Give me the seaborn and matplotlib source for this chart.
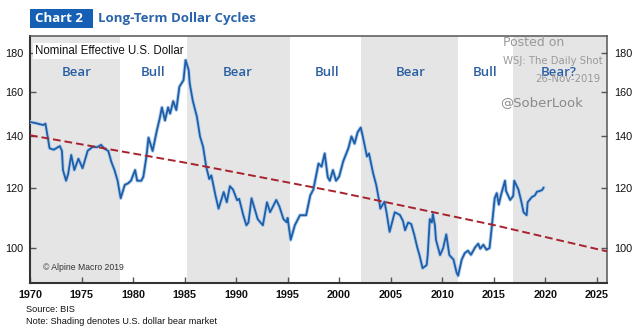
import numpy as np
import pandas as pd
import matplotlib
matplotlib.use("Agg")
import matplotlib.pyplot as plt
import seaborn as sns
from matplotlib.ticker import FixedLocator, NullLocator, FixedFormatter
from matplotlib.patches import Rectangle

# ---------------- data ----------------
years = [1970.0, 1970.5, 1971.0, 1971.3, 1971.5, 1971.9, 1972.3, 1972.9, 1973.1, 1973.2,
         1973.5, 1973.7, 1974.0, 1974.3, 1974.7, 1975.1, 1975.6, 1976.1, 1976.5, 1976.9,
         1977.2, 1977.6, 1977.9, 1978.2, 1978.5, 1978.8, 1979.2, 1979.5, 1979.8, 1980.2,
         1980.4, 1980.8, 1981.0, 1981.3, 1981.5, 1981.9, 1982.3, 1982.6, 1982.8, 1983.1,
         1983.4, 1983.6, 1983.9, 1984.2, 1984.5, 1984.9, 1985.1, 1985.4, 1985.5, 1985.8,
         1986.2, 1986.5, 1986.8, 1987.1, 1987.4, 1987.6, 1988.0, 1988.3, 1988.8, 1989.1,
         1989.4, 1989.7, 1990.1, 1990.3, 1990.7, 1991.0, 1991.2, 1991.5, 1991.8, 1992.1,
         1992.6, 1993.0, 1993.3, 1993.9, 1994.2, 1994.6, 1994.9, 1995.0, 1995.3, 1995.7,
         1996.2, 1996.8, 1997.2, 1997.5, 1998.0, 1998.3, 1998.6, 1998.9, 1999.1, 1999.4,
         1999.7, 2000.0, 2000.4, 2000.9, 2001.2, 2001.5, 2001.8, 2002.1, 2002.3, 2002.7,
         2002.9, 2003.3, 2003.6, 2003.9, 2004.0, 2004.4, 2004.6, 2004.9, 2005.4, 2005.9,
         2006.2, 2006.4, 2006.7, 2007.0, 2007.3, 2007.6, 2007.8, 2008.1, 2008.5, 2008.6,
         2008.8, 2009.0, 2009.1, 2009.3, 2009.4, 2009.8, 2010.1, 2010.4, 2010.7, 2011.1,
         2011.4, 2011.55, 2011.9, 2012.2, 2012.5, 2012.8, 2013.2, 2013.5, 2013.7, 2014.0,
         2014.3, 2014.6, 2014.8, 2015.1, 2015.3, 2015.5, 2015.7, 2016.1, 2016.2, 2016.6,
         2016.9, 2017.0, 2017.4, 2017.7, 2017.9, 2018.2, 2018.3, 2018.7, 2019.0, 2019.2,
         2019.5, 2019.7, 2019.85]
neer = [146.2, 145.8, 145.2, 144.9, 145.5, 135.1, 134.5, 136.0, 134.0, 126.5,
        122.5, 125.0, 132.4, 126.5, 130.9, 127.2, 134.1, 135.7, 135.5, 136.5,
        135.0, 134.0, 129.6, 126.5, 122.5, 116.2, 121.0, 121.5, 122.5, 126.5,
        122.5, 122.5, 124.0, 131.8, 139.5, 134.0, 142.3, 148.0, 152.8, 146.9,
        152.8, 150.0, 155.7, 151.6, 162.6, 165.9, 176.3, 171.0, 164.3, 155.9,
        148.5, 140.0, 135.7, 127.8, 123.1, 124.5, 117.2, 112.6, 118.4, 114.8,
        120.5, 119.3, 115.5, 116.0, 110.4, 107.1, 108.0, 116.2, 112.6, 109.1,
        107.1, 114.8, 111.4, 115.6, 113.4, 109.1, 108.1, 109.5, 102.5, 107.1,
        110.4, 110.4, 117.2, 119.3, 129.0, 127.8, 133.0, 123.8, 122.5, 126.5,
        122.5, 124.0, 129.9, 135.1, 140.0, 137.0, 141.8, 143.8, 140.0, 131.8,
        133.0, 125.3, 121.0, 115.0, 112.6, 115.0, 111.4, 105.0, 111.4, 110.5,
        108.5, 105.5, 108.0, 107.5, 104.0, 100.0, 97.9, 94.1, 95.0, 98.0,
        109.1, 108.0, 110.8, 107.0, 102.5, 97.9, 100.0, 104.2, 97.9, 96.6,
        92.9, 92.0, 96.6, 98.5, 99.2, 98.0, 100.2, 101.3, 99.8, 101.0,
        99.5, 100.0, 106.0, 116.2, 118.0, 114.0, 117.2, 122.5, 118.8, 115.6,
        117.0, 122.5, 119.3, 114.8, 111.4, 110.4, 114.8, 116.6, 117.2, 118.5,
        118.8, 119.1, 120.0]

trend_years = [1970, 1985, 2000, 2015, 2026]
trend_values = [140.5, 129.4, 118.3, 107.2, 99.0]

bear_starts = [1970.0, 1985.2, 2002.1, 2016.9]
bear_ends = [1978.7, 1995.2, 2011.5, 2026.0]

cycle_labels = ["Bear", "Bull", "Bear", "Bull", "Bear", "Bull", "Bear?"]
cycle_label_years = [1974.5, 1981.9, 1990.2, 1998.8, 2006.9, 2014.2, 2021.3]
cycle_label_level = 169.5

x_ticks = [1970, 1975, 1980, 1985, 1990, 1995, 2000, 2005, 2010, 2015, 2020, 2025]
y_ticks = [100, 120, 140, 160, 180]

# ---------------- plot ----------------
sns.set_style("ticks")
plt.rcParams["font.family"] = ["Liberation Sans", "DejaVu Sans"]

fig = plt.figure(figsize=(6.4, 3.35), dpi=100)
ax = fig.add_axes([30 / 640, 1 - 283 / 335, 577 / 640, (283 - 36) / 335])

for s, e in zip(bear_starts, bear_ends):
    ax.axvspan(s, e, color="#e5e5e5", lw=0, zorder=0)

df = pd.DataFrame({"year": years, "value": neer})
sns.lineplot(data=df, x="year", y="value", ax=ax, color="#b3cdea", lw=2.6, zorder=3)
sns.lineplot(data=df, x="year", y="value", ax=ax, color="#1d5ea8", lw=1.3, zorder=4)

tdf = pd.DataFrame({"year": trend_years, "value": trend_values})
sns.lineplot(data=tdf, x="year", y="value", ax=ax, color="#a8222e", lw=1.4,
             linestyle=(0, (4, 2)), zorder=5)

ax.set_yscale("log")
ax.set_xlim(1970, 2026)
ax.set_ylim(90, 189.5)
ax.set_xlabel("")
ax.set_ylabel("")

ax.xaxis.set_major_locator(FixedLocator(x_ticks))
ax.yaxis.set_major_locator(FixedLocator(y_ticks))
ax.yaxis.set_major_formatter(FixedFormatter([str(v) for v in y_ticks]))
ax.yaxis.set_minor_locator(NullLocator())
ax.tick_params(axis="both", which="major", direction="in", length=4, width=1,
               color="#555555", labelsize=7.8, labelcolor="#111111")
ax.tick_params(axis="y", right=True, labelright=True, pad=5)
ax.tick_params(axis="x", pad=5)
for lab in ax.get_xticklabels():
    lab.set_fontweight("bold")

for sp in ax.spines.values():
    sp.set_visible(True)
    sp.set_color("#555555")
    sp.set_linewidth(1.1)
ax.spines["left"].set_color("#333333")
ax.spines["bottom"].set_color("#333333")
ax.spines["left"].set_linewidth(1.5)
ax.spines["bottom"].set_linewidth(1.5)

for lab, yr in zip(cycle_labels, cycle_label_years):
    ax.text(yr, cycle_label_level, lab, ha="center", va="center", fontsize=9.5,
            color="#2a5fa3", family=["Open Sans", "DejaVu Sans"], fontweight="semibold",
            zorder=6)

ax.text(0.009, 0.965, "Nominal Effective U.S. Dollar", transform=ax.transAxes,
        ha="left", va="top", fontsize=8.3, color="#111111", zorder=7,
        bbox=dict(facecolor="white", edgecolor="none", pad=1.5))
ax.text(0.022, 0.045, "\u00a9 Alpine Macro 2019", transform=ax.transAxes,
        ha="left", va="bottom", fontsize=6.2, color="#333333", zorder=7)

# title
fig.patches.append(Rectangle((30 / 640, 1 - 28 / 335), 63 / 640, 19 / 335,
                             transform=fig.transFigure, facecolor="#1560b4",
                             edgecolor="none", zorder=1))
fig.text(35 / 640, 1 - 18.5 / 335, "Chart 2", ha="left", va="center", fontsize=9.5,
         color="white", fontweight="bold", family=["Open Sans", "DejaVu Sans"], zorder=2)
fig.text(98 / 640, 1 - 18.5 / 335, "Long-Term Dollar Cycles", ha="left", va="center",
         fontsize=9.5, color="#2a64ab", fontweight="bold",
         family=["Open Sans", "DejaVu Sans"])

# watermark
fig.text(503 / 640, 1 - 42 / 335, "Posted on", ha="left", va="center", fontsize=9,
         color="#9a9a9a", family=["DejaVu Sans"])
fig.text(503 / 640, 1 - 61 / 335, "WSJ: The Daily Shot", ha="left", va="center",
         fontsize=7.3, color="#9a9a9a", family=["DejaVu Sans"])
fig.text(600 / 640, 1 - 79 / 335, "26-Nov-2019", ha="right", va="center", fontsize=7.3,
         color="#9a9a9a", family=["DejaVu Sans"])
fig.text(500 / 640, 1 - 103 / 335, "@SoberLook", ha="left", va="center", fontsize=9.5,
         color="#8a8a8a", family=["DejaVu Sans"])

# notes
fig.text(26 / 640, 1 - 309 / 335, "Source: BIS", ha="left", va="center", fontsize=6.6,
         color="#111111")
fig.text(26 / 640, 1 - 321 / 335, "Note: Shading denotes U.S. dollar bear market",
         ha="left", va="center", fontsize=6.6, color="#111111")

fig.savefig("out.png", dpi=100, facecolor="white")
